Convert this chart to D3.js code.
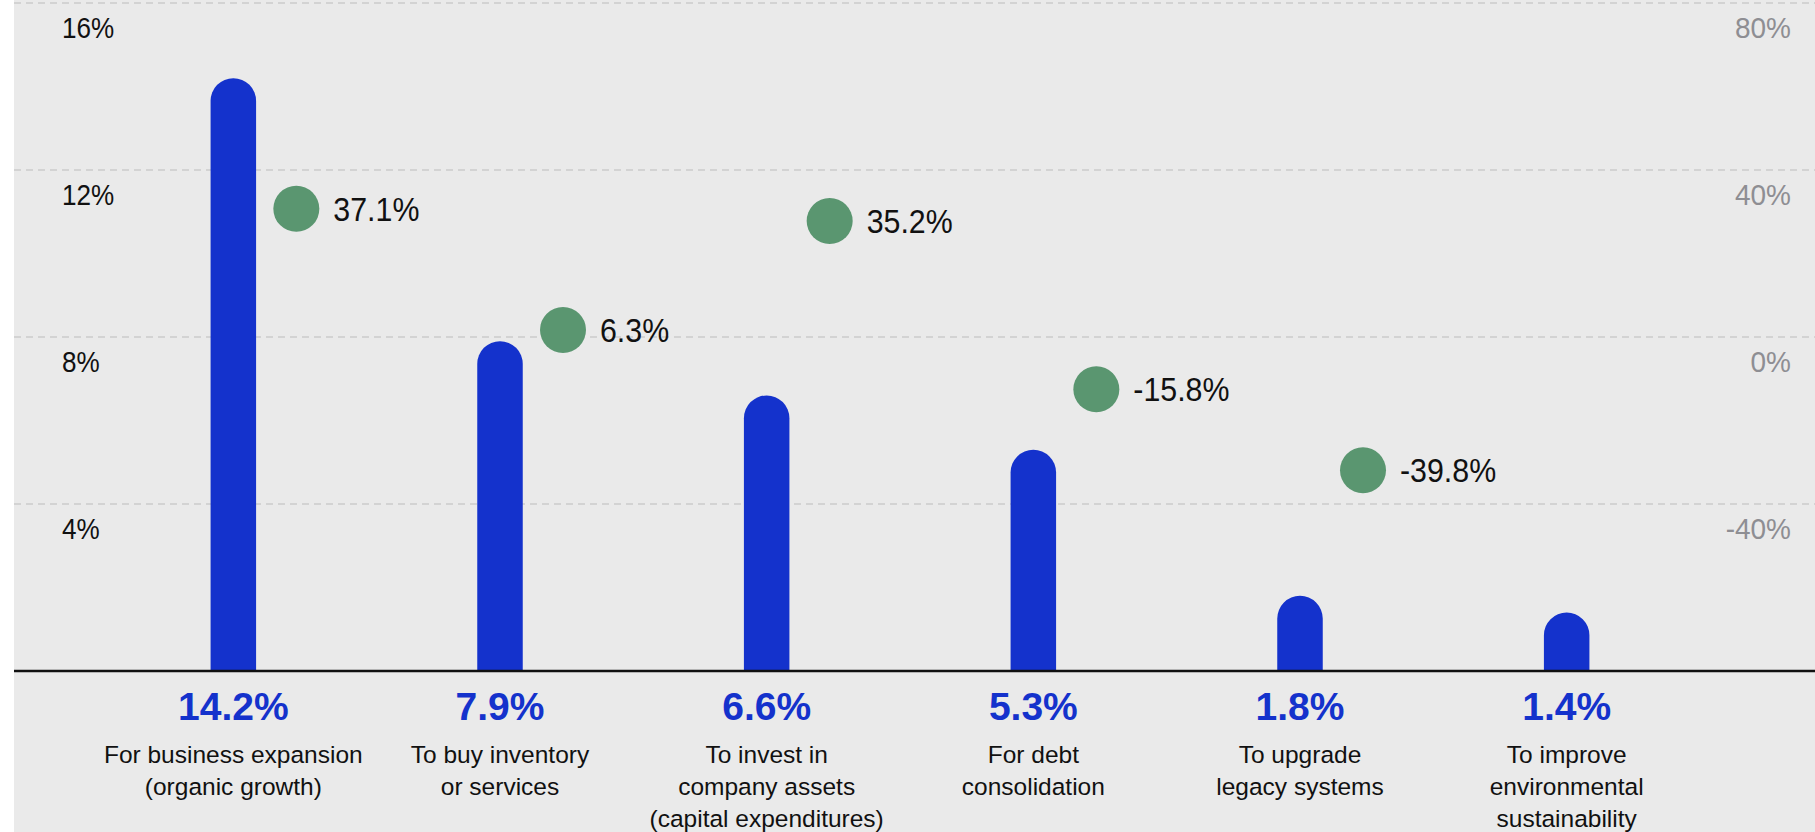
<!DOCTYPE html>
<html>
<head>
<meta charset="utf-8">
<script src="https://cdn.jsdelivr.net/npm/d3@7"></script>
<style>
  html, body { margin: 0; padding: 0; background: #ffffff; }
  svg { display: block; }
</style>
</head>
<body>
<svg id="chart" width="1815" height="832"></svg>
<script>
// ---------------- data ----------------
const categories = [
  "For business expansion (organic growth)",
  "To buy inventory or services",
  "To invest in company assets (capital expenditures)",
  "For debt consolidation",
  "To upgrade legacy systems",
  "To improve environmental sustainability"
];
const categoryLines = [
  ["For business expansion", "(organic growth)"],
  ["To buy inventory", "or services"],
  ["To invest in", "company assets", "(capital expenditures)"],
  ["For debt", "consolidation"],
  ["To upgrade", "legacy systems"],
  ["To improve", "environmental", "sustainability"]
];
const shareValues = [14.2, 7.9, 6.6, 5.3, 1.8, 1.4];          // left axis, %
const changeValues = [37.1, 6.3, 35.2, -15.8, -39.8, null];    // label text, %
const changePlotted = [30.7, 1.7, 27.8, -12.5, -31.9, null];   // dot height as drawn, right axis %
const leftTicks = [4, 8, 12, 16];
const rightTicks = [-40, 0, 40, 80];

// ---------------- setup ----------------
const W = 1815, H = 832;
const svg = d3.select("#chart");
const plotLeft = 14, plotRight = 1815, baseY = 671, topY = 3;

const x = d3.scaleBand().domain(categories).range([100, 1700]).paddingInner(0).paddingOuter(0);
const yL = d3.scaleLinear().domain([0, 16]).range([baseY, topY]);
const yR = d3.scaleLinear().domain([-80, 80]).range([baseY, topY]);

const barColor = "#1432cc";
const dotColor = "#5a9670";
const regular = "'Liberation Sans', Arial, sans-serif";

svg.append("rect").attr("x", plotLeft).attr("y", 0).attr("width", plotRight - plotLeft).attr("height", H).attr("fill", "#eaeaea");

// gridlines
svg.append("g").selectAll("line").data(leftTicks).join("line")
  .attr("x1", plotLeft).attr("x2", plotRight)
  .attr("y1", d => yL(d)).attr("y2", d => yL(d))
  .attr("stroke", "#cccccc").attr("stroke-width", 1.5).attr("stroke-dasharray", "7,5");

// left axis labels
svg.append("g").selectAll("text").data(leftTicks).join("text")
  .attr("transform", d => `translate(62,${yL(d) + 35}) scale(0.9,1)`)
  .attr("font-family", regular).attr("font-size", 29).attr("fill", "#111")
  .text(d => d + "%");

// right axis labels
svg.append("g").selectAll("text").data(rightTicks).join("text")
  .attr("transform", d => `translate(1791,${yR(d) + 35}) scale(0.965,1)`)
  .attr("text-anchor", "end")
  .attr("font-family", regular).attr("font-size", 29).attr("fill", "#8e8e93")
  .text(d => d + "%");

// bars with rounded tops
const bw = 45.5, r = bw / 2;
svg.append("g").selectAll("path").data(categories).join("path")
  .attr("fill", barColor)
  .attr("d", (c, i) => {
    const cx = x(c) + x.bandwidth() / 2;
    const top = yL(shareValues[i]);
    const x0 = cx - r, x1 = cx + r;
    return `M${x0},${baseY} L${x0},${top + r} A${r},${r} 0 0 1 ${x1},${top + r} L${x1},${baseY} Z`;
  });

// baseline
svg.append("line").attr("x1", plotLeft).attr("x2", plotRight)
  .attr("y1", baseY).attr("y2", baseY).attr("stroke", "#111").attr("stroke-width", 2.5);

// dots
const dotData = categories.map((c, i) => ({c, plotted: changePlotted[i], value: changeValues[i]})).filter(d => d.value !== null);
const dotOffset = 63;
svg.append("g").selectAll("circle").data(dotData).join("circle")
  .attr("cx", d => x(d.c) + x.bandwidth() / 2 + dotOffset)
  .attr("cy", d => yR(d.plotted))
  .attr("r", 23).attr("fill", dotColor);

svg.append("g").selectAll("text").data(dotData).join("text")
  .attr("transform", d => `translate(${x(d.c) + x.bandwidth() / 2 + dotOffset + 37},${yR(d.plotted) + 12}) scale(0.92,1)`)
  .attr("font-family", regular).attr("font-size", 33).attr("fill", "#111")
  .text(d => d.value.toFixed(1) + "%");

// bottom value labels
svg.append("g").selectAll("text").data(categories).join("text")
  .attr("x", c => x(c) + x.bandwidth() / 2)
  .attr("y", 720)
  .attr("text-anchor", "middle")
  .attr("font-family", regular).attr("font-weight", "bold").attr("font-size", 39).attr("fill", barColor)
  .text((c, i) => shareValues[i].toFixed(1) + "%");

// category labels
const catG = svg.append("g").selectAll("text").data(categories).join("text")
  .attr("text-anchor", "middle")
  .attr("font-family", regular).attr("font-size", 24.5).attr("fill", "#111");
catG.each(function(c, i) {
  const t = d3.select(this);
  const cx = x(c) + x.bandwidth() / 2;
  categoryLines[i].forEach((line, j) => {
    t.append("tspan").attr("x", cx).attr("y", 763 + j * 32).text(line);
  });
});
</script>
</body>
</html>
